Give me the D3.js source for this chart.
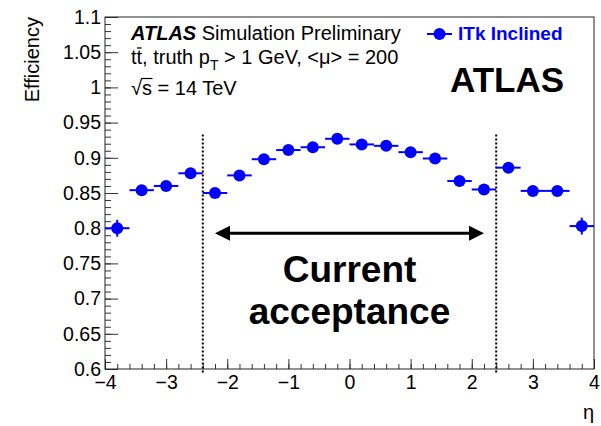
<!DOCTYPE html>
<html>
<head>
<meta charset="utf-8">
<script src="https://cdn.jsdelivr.net/npm/d3@7"></script>
<style>
  html, body { margin: 0; padding: 0; background: #fff; }
  svg { display: block; }
  text { font-family: "Liberation Sans", Arial, Helvetica, sans-serif; }
</style>
</head>
<body>
<svg id="chart" width="601" height="426"></svg>
<script>
// Tracking efficiency versus pseudorapidity, 0.4-wide eta bins
const etaCenters = [-3.8, -3.4, -3.0, -2.6, -2.2, -1.8, -1.4, -1.0, -0.6, -0.2,
                     0.2,  0.6,  1.0,  1.4,  1.8,  2.2,  2.6,  3.0,  3.4,  3.8];
const efficiency = [0.800, 0.854, 0.860, 0.878, 0.850, 0.875, 0.898, 0.911, 0.915, 0.927,
                    0.919, 0.917, 0.908, 0.899, 0.867, 0.855, 0.886, 0.853, 0.853, 0.803];
const effError   = [0.012, 0.005, 0.005, 0.005, 0.005, 0.005, 0.004, 0.004, 0.004, 0.004,
                    0.004, 0.004, 0.004, 0.004, 0.005, 0.005, 0.005, 0.005, 0.005, 0.012];
const binHalfWidth = 0.2;

const xDomain = [-4, 4];
const yDomain = [0.6, 1.1];
const xMajorTicks = [-4, -3, -2, -1, 0, 1, 2, 3, 4];
const yMajorTicks = d3.range(12, 23).map(i => i / 20);
const xMinorTicks = d3.range(-20, 21).map(i => i / 5);
const yMinorTicks = d3.range(60, 111).map(i => i / 100);

const acceptanceEdges = [-2.4, 2.4];
const acceptanceLineY = [0.595, 0.933];
const arrowSpan = [-2.2, 2.2];
const arrowY = 0.793;

const seriesName = "ITk Inclined";
const blue = "#0000ff";

const svg = d3.select("#chart");
const frame = { left: 105, right: 594, top: 17, bottom: 369 };

const x = d3.scaleLinear().domain(xDomain).range([frame.left, frame.right]);
const y = d3.scaleLinear().domain(yDomain).range([frame.bottom, frame.top]);

// Axes with inward-pointing ticks
const tickColor = "#333";
const gx = svg.append("g").attr("transform", `translate(0,${frame.bottom})`);
gx.call(d3.axisBottom(x).tickValues(xMinorTicks).tickSize(-5).tickFormat(""));
gx.call(g => g.selectAll(".tick line").attr("stroke", tickColor));
const gxMaj = svg.append("g").attr("transform", `translate(0,${frame.bottom})`)
  .call(d3.axisBottom(x).tickValues(xMajorTicks).tickSize(-10).tickPadding(6.6)
        .tickFormat(d3.format("d")));
gxMaj.selectAll(".tick line").attr("stroke", tickColor);
gxMaj.selectAll("text").attr("font-size", 19.5).attr("fill", "#000")
  .attr("font-family", "Liberation Sans, Arial, sans-serif");
gx.select(".domain").remove();
gxMaj.select(".domain").remove();

const gy = svg.append("g").attr("transform", `translate(${frame.left},0)`);
gy.call(d3.axisLeft(y).tickValues(yMinorTicks).tickSize(-6).tickFormat(""));
gy.selectAll(".tick line").attr("stroke", tickColor);
const gyMaj = svg.append("g").attr("transform", `translate(${frame.left},0)`)
  .call(d3.axisLeft(y).tickValues(yMajorTicks).tickSize(-13).tickPadding(4)
        .tickFormat(d3.format("~g")));
gyMaj.selectAll(".tick line").attr("stroke", tickColor);
gyMaj.selectAll("text").attr("font-size", 19.5).attr("fill", "#000")
  .attr("font-family", "Liberation Sans, Arial, sans-serif");
gy.select(".domain").remove();
gyMaj.select(".domain").remove();

// Frame
svg.append("rect")
  .attr("x", frame.left).attr("y", frame.top)
  .attr("width", frame.right - frame.left).attr("height", frame.bottom - frame.top)
  .attr("fill", "none").attr("stroke", "#222").attr("stroke-width", 1);

// Axis titles
svg.append("text")
  .attr("transform", `translate(39,${frame.top}) rotate(-90)`)
  .attr("text-anchor", "end").attr("font-size", 20)
  .text("Efficiency");
svg.append("text")
  .attr("x", frame.right).attr("y", 419)
  .attr("text-anchor", "end").attr("font-size", 20)
  .text("η");

// Current acceptance boundaries
svg.append("g").selectAll("line").data(acceptanceEdges).join("line")
  .attr("x1", d => x(d)).attr("x2", d => x(d))
  .attr("y1", y(acceptanceLineY[0])).attr("y2", y(acceptanceLineY[1]))
  .attr("stroke", "#000").attr("stroke-width", 2).attr("stroke-dasharray", "2,2");

// Double-headed arrow
const ax1 = x(arrowSpan[0]), ax2 = x(arrowSpan[1]), ay = y(arrowY);
const headL = 15, headW = 7.5;
svg.append("line")
  .attr("x1", ax1 + headL - 2).attr("x2", ax2 - headL + 2)
  .attr("y1", ay).attr("y2", ay)
  .attr("stroke", "#000").attr("stroke-width", 3);
svg.append("path")
  .attr("d", `M${ax1},${ay} L${ax1 + headL},${ay - headW} L${ax1 + headL},${ay + headW} Z`)
  .attr("fill", "#000");
svg.append("path")
  .attr("d", `M${ax2},${ay} L${ax2 - headL},${ay - headW} L${ax2 - headL},${ay + headW} Z`)
  .attr("fill", "#000");

svg.append("text")
  .attr("x", x(0)).attr("y", 282)
  .attr("text-anchor", "middle").attr("font-size", 37).attr("font-weight", "bold")
  .text("Current");
svg.append("text")
  .attr("x", x(0)).attr("y", 324)
  .attr("text-anchor", "middle").attr("font-size", 37).attr("font-weight", "bold")
  .text("acceptance");

// Data points with error bars
const pts = svg.append("g");
const data = etaCenters.map((e, i) => ({ eta: e, eff: efficiency[i], err: effError[i] }));
pts.selectAll("line.h").data(data).join("line").attr("class", "h")
  .attr("x1", d => x(d.eta - binHalfWidth)).attr("x2", d => x(d.eta + binHalfWidth))
  .attr("y1", d => y(d.eff)).attr("y2", d => y(d.eff))
  .attr("stroke", blue).attr("stroke-width", 2);
pts.selectAll("line.v").data(data).join("line").attr("class", "v")
  .attr("x1", d => x(d.eta)).attr("x2", d => x(d.eta))
  .attr("y1", d => y(d.eff - d.err)).attr("y2", d => y(d.eff + d.err))
  .attr("stroke", blue).attr("stroke-width", 2);
pts.selectAll("circle").data(data).join("circle")
  .attr("cx", d => x(d.eta)).attr("cy", d => y(d.eff)).attr("r", 6)
  .attr("fill", blue);

// Labels, upper left
const t1 = svg.append("text").attr("x", 131).attr("y", 40).attr("font-size", 20);
t1.append("tspan").attr("font-weight", "bold").attr("font-style", "italic").text("ATLAS");
t1.append("tspan").text(" Simulation Preliminary");

const t2 = svg.append("text").attr("x", 131).attr("y", 64).attr("font-size", 20);
t2.append("tspan").text("tt, truth p");
t2.append("tspan").attr("dy", 6).attr("font-size", 14).text("T");
t2.append("tspan").attr("dy", -6).text(" > 1 GeV, <μ> = 200");
// bar over the second t
{
  const node = t2.node();
  const s = node.getStartPositionOfChar(1), e = node.getEndPositionOfChar(1);
  svg.append("line")
    .attr("x1", s.x + 0.5).attr("x2", e.x - 0.5)
    .attr("y1", 64 - 16).attr("y2", 64 - 16)
    .attr("stroke", "#000").attr("stroke-width", 1.3);
}

const t3 = svg.append("text").attr("x", 131).attr("y", 95).attr("font-size", 20);
t3.text("√s = 14 TeV");
{
  // radical bar over the s
  const node = t3.node();
  const s = node.getStartPositionOfChar(1), e = node.getEndPositionOfChar(1);
  svg.append("line")
    .attr("x1", s.x - 1).attr("x2", e.x + 0.5)
    .attr("y1", 95 - 16.5).attr("y2", 95 - 16.5)
    .attr("stroke", "#000").attr("stroke-width", 1.2);
}

// Legend
const legY = 34;
svg.append("line").attr("x1", 427).attr("x2", 452).attr("y1", legY).attr("y2", legY)
  .attr("stroke", blue).attr("stroke-width", 2);
svg.append("circle").attr("cx", 439.5).attr("cy", legY).attr("r", 6).attr("fill", blue);
svg.append("text").attr("x", 458).attr("y", 40).attr("font-size", 19)
  .attr("font-weight", "bold").attr("fill", blue).text(seriesName);

svg.append("text").attr("x", 450).attr("y", 92).attr("font-size", 35)
  .attr("font-weight", "bold").text("ATLAS");
</script>
</body>
</html>
